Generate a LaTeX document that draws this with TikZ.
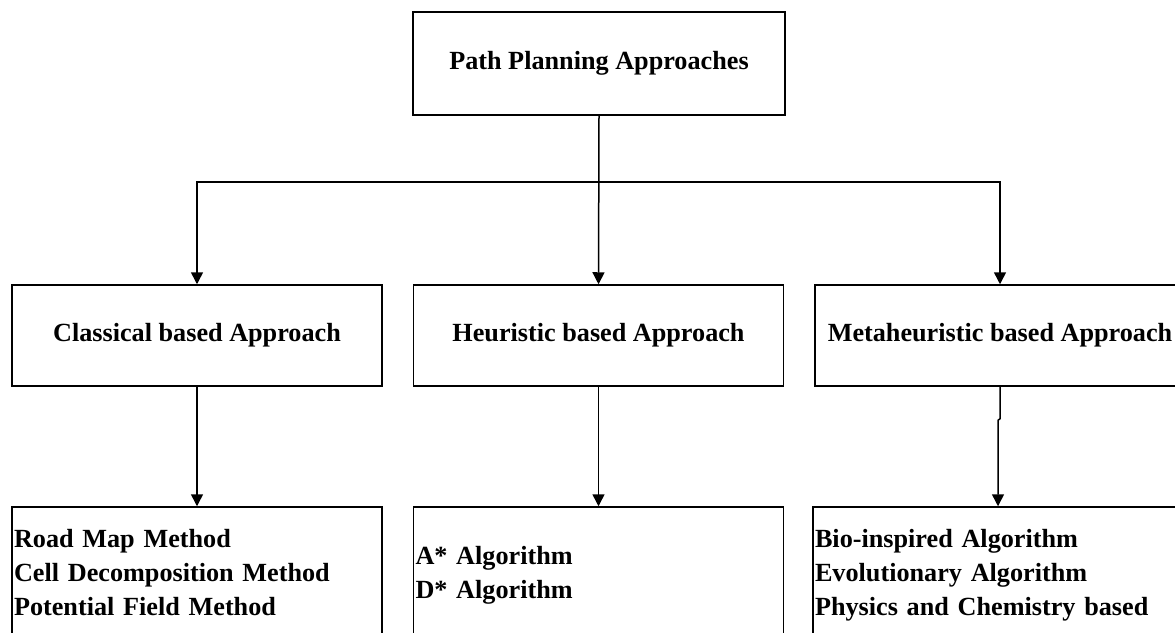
\documentclass[tikz,border=0pt]{standalone}
\usepackage{fontspec}
\setmainfont{Liberation Serif}
\usetikzlibrary{arrows.meta}
\begin{document}
\begin{tikzpicture}[x=1pt,y=-1pt,
  box/.style={draw, line width=1.5pt, inner sep=0pt,
    font=\fontsize{26.2}{34}\selectfont\bfseries},
  midbox/.style={box, minimum width=370pt, minimum height=101pt},
  listbox/.style={box, text width=366pt, inner xsep=2pt, align=left, minimum height=136pt},
  conn/.style={line width=1.5pt, -{Triangle[length=12pt,width=12pt]}}]
\useasboundingbox (0,0) rectangle (1175,632);
\clip (0,0) rectangle (1175,632);
\node[box, minimum width=372pt, minimum height=103pt] (top) at (599,63.5) {Path Planning Approaches};
\node[midbox] (cls) at (197,335.5) {Classical based Approach};
\node[midbox] (heu) at (598.5,335.5) {Heuristic based Approach};
\node[midbox] (meta) at (1000,335.5) {Metaheuristic based Approach};
\node[listbox] (road) at (197,575) {\begin{tabular}{@{}l@{}}Road Map Method\\Cell Decomposition Method\\Potential Field Method\end{tabular}};
\node[listbox] (astar) at (598.5,575) {\begin{tabular}{@{}l@{}}A* Algorithm\\D* Algorithm\end{tabular}};
\node[listbox] (bio) at (998,575) {\begin{tabular}{@{}l@{}}Bio-inspired Algorithm\\Evolutionary Algorithm\\Physics and Chemistry based\end{tabular}};
\coordinate (split) at (599,182);
\draw[conn] (top.south) -- (heu.north);
\draw[conn] (split) -| (cls.north);
\draw[conn] (split) -| (meta.north);
\draw[conn] (cls.south) -- (road.north);
\draw[conn] (heu.south) -- (astar.north);
\draw[conn] (meta.south) -- ++(0,32) -- ([yshift=86pt]bio.north) -- (bio.north);
\end{tikzpicture}
\end{document}
